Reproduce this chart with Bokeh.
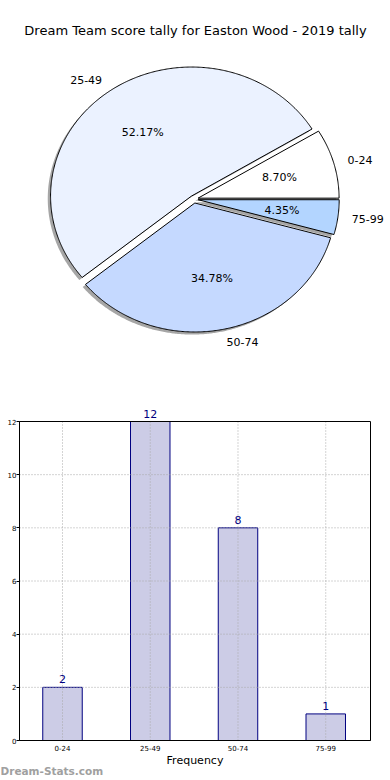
import math
from bokeh.plotting import figure
from bokeh.layouts import column
from bokeh.models import Range1d, Label, ColumnDataSource, FixedTicker
from bokeh.core.properties import value
from bokeh.embed import file_html
from bokeh.resources import INLINE

# ---- data ----
title_text = "Dream Team score tally for Easton Wood - 2019 tally"
categories = ["0-24", "25-49", "50-74", "75-99"]
counts = [2, 12, 8, 1]
pie_colors = ["#FFFFFF", "#EBF2FF", "#C5D9FF", "#B3D5FF"]
y_ticks = [0, 2, 4, 6, 8, 10, 12]
x_label = "Frequency"
watermark = "Dream-Stats.com"

FONT = "DejaVu Sans"
W = 390

# ---- pie (matplotlib-like, elliptical because of unequal aspect) ----
PH = 400
CX, CY = 193.5, 198.7   # pixel position of the pie centre within the figure
AX, AY = 141.0, 129.0   # pixels per data unit (x, y)
explode = 0.03
shadow_off = -0.02

pie = figure(width=W, height=PH, output_backend="svg", toolbar_location=None,
             x_axis_location=None, y_axis_location=None,
             x_range=Range1d(-CX / AX, (W - CX) / AX),
             y_range=Range1d(-(PH - CY) / AY, CY / AY),
             min_border=0, title=None)
pie.grid.visible = False
pie.outline_line_color = None

total = float(sum(counts))
xs, ys, sxs, sys_, mids = [], [], [], [], []
start = 0.0
for c in counts:
    span = 360.0 * c / total
    t1, t2 = start, start + span
    mid = math.radians((t1 + t2) / 2)
    ox, oy = explode * math.cos(mid), explode * math.sin(mid)
    n = max(8, int(span * 2))
    px = [ox] + [ox + math.cos(math.radians(t1 + (t2 - t1) * k / n)) for k in range(n + 1)]
    py = [oy] + [oy + math.sin(math.radians(t1 + (t2 - t1) * k / n)) for k in range(n + 1)]
    xs.append(px); ys.append(py)
    sxs.append([v + shadow_off for v in px]); sys_.append([v + shadow_off for v in py])
    mids.append((mid, ox, oy))
    start = t2

pie.patches(sxs, sys_, fill_color="black", fill_alpha=0.35, line_color=None)
pie.patches(xs, ys, fill_color=pie_colors, line_color="black", line_width=1)

for (mid, ox, oy), cat, c in zip(mids, categories, counts):
    x = ox + 1.1 * math.cos(mid)
    y = oy + 1.1 * math.sin(mid)
    pie.add_layout(Label(x=x, y=y, text=cat, text_align="left" if x > 0 else "right",
                         text_baseline="middle", text_font=FONT,
                         text_font_size="11px", text_color="black"))
    pie.add_layout(Label(x=ox + 0.6 * math.cos(mid), y=oy + 0.6 * math.sin(mid),
                         text="%.2f%%" % (100.0 * c / total), text_align="center",
                         text_baseline="middle", text_font=FONT,
                         text_font_size="11px", text_color="black"))

pie.add_layout(Label(x=(195 - CX) / AX, y=(CY - 30) / AY, text=title_text,
                     text_align="center", text_baseline="middle",
                     text_font=FONT, text_font_size="13px", text_color="black"))

# ---- bar chart (frame spans the whole figure; axes are pinned to the box) ----
BH = 378
FL, FR, FT, FB = 19, 370, 21, 340      # visible box in figure pixels
X0, X1 = -0.49, 3.51                    # data range of the visible box
Y0, Y1 = 0, 12
sx = (FR - FL) / (X1 - X0)
sy = (FB - FT) / (Y1 - Y0)

idx = list(range(len(categories)))
src = ColumnDataSource(dict(x=idx, top=counts))

bar = figure(width=W, height=BH, output_backend="svg", toolbar_location=None,
             x_range=Range1d(X0 - FL / sx, X1 + (W - FR) / sx),
             y_range=Range1d(Y0 - (BH - FB) / sy, Y1 + FT / sy),
             min_border=0, title=None)
bar.outline_line_color = None
bar.grid.visible = False

bar.vbar(x="x", top="top", width=0.45, source=src, fill_color="#CCCCE6",
         line_color="#000080", line_width=1)

# dotted grid on top of the bars, limited to the box
bar.segment(x0=idx, y0=[Y0] * len(idx), x1=idx, y1=[Y1] * len(idx),
            line_color="#a8a8a8", line_dash="1 2", line_width=1)
bar.segment(x0=[X0] * len(y_ticks), y0=y_ticks, x1=[X1] * len(y_ticks), y1=y_ticks,
            line_color="#a8a8a8", line_dash="1 2", line_width=1)
# box
bar.quad(left=[X0], right=[X1], bottom=[Y0], top=[Y1], fill_color=None,
         line_color="black", line_width=1)

for i, c in zip(idx, counts):
    bar.add_layout(Label(x=i, y=c, text=str(c), text_align="center",
                         text_baseline="bottom", y_offset=4, text_font=FONT,
                         text_font_size="11px", text_color="#000080"))

bar.xaxis.fixed_location = Y0
bar.yaxis.fixed_location = X0
bar.xaxis.bounds = (X0, X1)
bar.yaxis.bounds = (Y0, Y1)
bar.xaxis.ticker = FixedTicker(ticks=idx)
bar.xaxis.major_label_overrides = {i: c for i, c in zip(idx, categories)}
bar.yaxis.ticker = FixedTicker(ticks=y_ticks)
for ax in (bar.xaxis, bar.yaxis):
    ax.major_label_text_font = FONT
    ax.major_label_text_font_size = "7px"
    ax.major_label_text_color = "black"
    ax.minor_tick_line_color = None
    ax.axis_line_color = "black"
bar.yaxis.major_tick_out = 3
bar.yaxis.major_tick_in = 0
bar.yaxis.major_label_standoff = 0
bar.xaxis.major_tick_out = 0
bar.xaxis.major_tick_in = 0
bar.xaxis.major_label_standoff = 4

bar.add_layout(Label(x=(X0 + X1) / 2, y=Y0, y_offset=-20, text=x_label,
                     text_align="center", text_baseline="middle", text_font=FONT,
                     text_font_size="11px", text_color="black"))
bar.add_layout(Label(x=X0 - FL / sx, y=Y0, y_offset=-(770 - 400 - FB), text=watermark,
                     text_font=FONT, text_font_size="10.5px", text_font_style="bold",
                     text_color="#a0a0a0", text_baseline="middle", text_align="left"))

layout = column(pie, bar, spacing=0)
open("out.html", "w").write(file_html(layout, INLINE))
